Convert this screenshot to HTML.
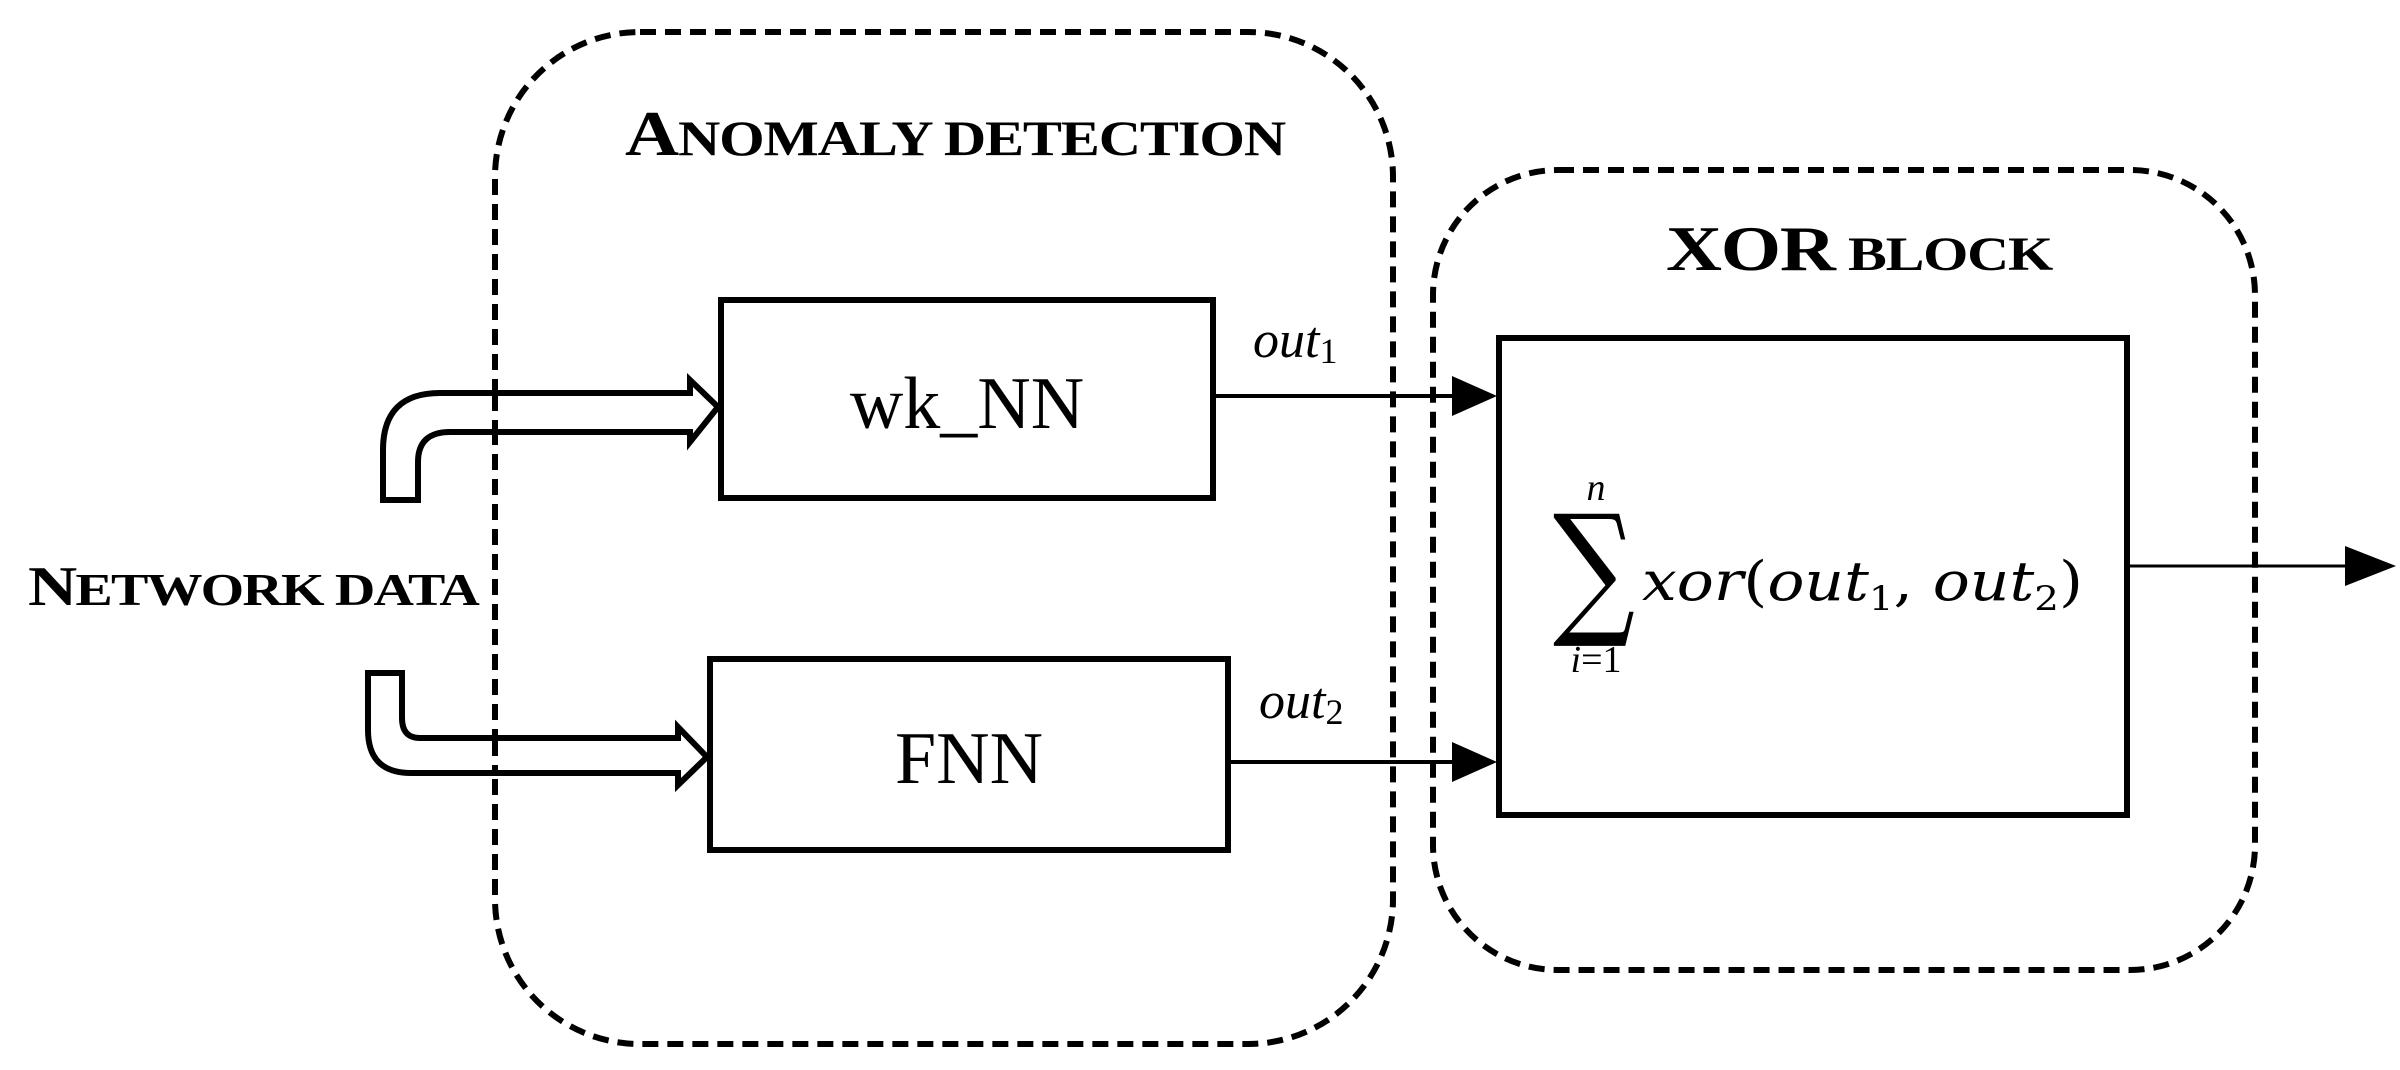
<!DOCTYPE html>
<html><head><meta charset="utf-8"><style>
html,body{margin:0;padding:0;background:#fff;}
svg{display:block;}
</style></head><body>
<svg width="2400" height="1070" viewBox="0 0 2400 1070" xmlns="http://www.w3.org/2000/svg">
<rect width="2400" height="1070" fill="#fff"/>
<rect x="495" y="32" width="898" height="1012" rx="145" ry="145" fill="none" stroke="#000" stroke-width="6" stroke-dasharray="16,9"/>
<rect x="1433" y="170" width="822" height="800" rx="125" ry="125" fill="none" stroke="#000" stroke-width="6" stroke-dasharray="16,9"/>
<text x="625" y="155" textLength="660" lengthAdjust="spacingAndGlyphs" font-family="Liberation Serif, serif" font-weight="bold" font-size="50" letter-spacing="-1"><tspan font-size="64">A</tspan>NOMALY DETECTION</text>
<text x="1666" y="270" textLength="386" lengthAdjust="spacingAndGlyphs" font-family="Liberation Serif, serif" font-weight="bold" font-size="48" letter-spacing="-1"><tspan font-size="64">XOR</tspan> BLOCK</text>
<text x="28" y="605" textLength="450" lengthAdjust="spacingAndGlyphs" font-family="Liberation Serif, serif" font-weight="bold" font-size="46" letter-spacing="-1.5"><tspan font-size="56">N</tspan>ETWORK DATA</text>
<rect x="721" y="300" width="492" height="198" fill="#fff" stroke="#000" stroke-width="6"/>
<text x="967" y="428" text-anchor="middle" font-family="Liberation Serif, serif" font-size="74">wk_NN</text>
<rect x="710" y="659" width="518" height="191" fill="#fff" stroke="#000" stroke-width="6"/>
<text x="969" y="783" text-anchor="middle" font-family="Liberation Serif, serif" font-size="74">FNN</text>
<rect x="1499" y="338" width="628" height="477" fill="#fff" stroke="#000" stroke-width="6"/>
<path d="M383,500 L383,450 Q383,393 440,393 L690,393 L690,380 L718,407 L690,442 L690,432 L450,432 Q418,432 418,462 L418,500 Z" fill="#fff" stroke="#000" stroke-width="6" stroke-linejoin="miter"/>
<path d="M368,673 L368,730 Q368,773 411,773 L678,773 L678,785 L707,757 L678,727 L678,738 L420,738 Q402,738 402,718 L402,673 Z" fill="#fff" stroke="#000" stroke-width="6" stroke-linejoin="miter"/>
<line x1="495" y1="395" x2="495" y2="430" stroke="#000" stroke-width="6" stroke-dasharray="16,9"/>
<line x1="495" y1="740" x2="495" y2="772" stroke="#000" stroke-width="6" stroke-dasharray="16,9"/>
<text x="1253" y="357" font-family="Liberation Serif, serif" font-style="italic" font-size="52">out<tspan font-style="normal" font-size="36" dy="6">1</tspan></text>
<text x="1259" y="718" font-family="Liberation Serif, serif" font-style="italic" font-size="52">out<tspan font-style="normal" font-size="36" dy="6">2</tspan></text>
<line x1="1213" y1="396" x2="1470" y2="396" stroke="#000" stroke-width="4"/>
<polygon points="1452,376 1497,396 1452,416" fill="#000"/>
<line x1="1228" y1="762" x2="1470" y2="762" stroke="#000" stroke-width="4"/>
<polygon points="1452,742 1497,762 1452,782" fill="#000"/>
<line x1="2127" y1="566" x2="2360" y2="566" stroke="#000" stroke-width="3"/>
<polygon points="2345,546 2396,566 2345,586" fill="#000"/>
<text transform="translate(1594,618) scale(1.15,1.45)" text-anchor="middle" font-family="DejaVu Serif, serif" font-size="100">∑</text>
<text x="1596" y="500" text-anchor="middle" font-family="Liberation Serif, serif" font-style="italic" font-size="38">n</text>
<text x="1596" y="672" text-anchor="middle" font-family="Liberation Serif, serif" font-size="38"><tspan font-style="italic">i</tspan>=1</text>
<text x="1642" y="600" textLength="441" lengthAdjust="spacingAndGlyphs" font-family="DejaVu Serif, serif" font-style="italic" font-size="54">xor<tspan font-style="normal">(</tspan>out<tspan font-style="normal" font-size="34" dy="10">1</tspan><tspan dy="-10" font-style="normal">, </tspan>out<tspan font-style="normal" font-size="34" dy="10">2</tspan><tspan dy="-10" font-style="normal">)</tspan></text>
</svg>
</body></html>
